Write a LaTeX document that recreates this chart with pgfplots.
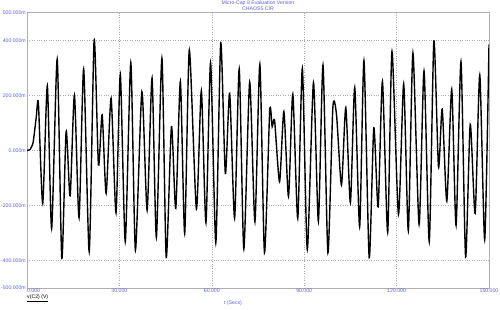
\documentclass[border=0pt]{standalone}
\usepackage{pgfplots}
\pgfplotsset{compat=1.18}
\usepackage{fontspec}
\setmainfont{Liberation Sans}
\definecolor{mcblue}{RGB}{95,95,235}
\definecolor{gridgray}{RGB}{175,175,175}
\begin{document}
\begin{tikzpicture}[x=1bp,y=1bp]
\useasboundingbox (0,0) rectangle (500,309);
\begin{axis}[
  at={(27bp,21bp)}, anchor=south west,
  scale only axis, width=462bp, height=275.3bp,
  xmin=0, xmax=150, ymin=-500, ymax=500,
  axis line style={gridgray, line width=0.6pt},
  major tick length=0pt,
  xtick={0,30,60,90,120,150},
  xticklabels={\makebox[0pt][l]{0.000},30.000,60.000,90.000,120.000,150.000},
  ytick={-500,-400,-200,0,200,400,500},
  yticklabels={-500.000m,-400.000m,-200.000m,0.000m,200.000m,400.000m,500.000m},
  xticklabel style={font=\fontsize{5.2}{6}\selectfont, text=mcblue, inner sep=0.8bp},
  yticklabel style={font=\fontsize{5.2}{6}\selectfont, text=mcblue, inner sep=1bp},
  grid=major,
  major grid style={gridgray, dotted, line width=0.6pt},
  clip=true,
]
\addplot[black, line width=1.4pt, smooth, tension=0.4] coordinates {
(0,0) (1.0,3) (2.0,30) (3.0,120) (3.7,171) (5.1,-193) (6.6,234) (8.0,-284)
(9.8,331) (11.3,-393) (12.7,68) (14.0,-165) (15.4,201) (16.9,-245) (18.4,295)
(20.2,-368) (21.8,401) (23.2,-53) (24.4,129) (25.7,-156) (27.3,189) (28.9,-227)
(30.3,276) (31.9,-332) (33.7,319) (35.2,-362) (37.3,213) (39.0,-217) (40.6,262)
(42.0,-316) (43.8,335) (45.2,-389) (46.9,86) (48.3,-211) (49.8,250) (51.2,-302)
(52.7,365) (55.0,-213) (56.6,216) (58.1,-263) (59.6,319) (61.3,-336) (62.9,391)
(64.4,-84) (65.8,207) (67.4,-247) (68.9,296) (70.4,-358) (72.3,248) (74.0,-259)
(75.6,313) (77.1,-372) (78.8,143) (79.6,86) (80.4,107) (82.0,-114) (83.4,141)
(84.9,-168) (86.3,204) (87.9,-247) (89.4,298) (91.0,-360) (93.0,246) (94.6,-257)
(96.1,310) (97.7,-372) (99.3,155) (100.5,128) (102.1,-126) (103.5,155) (105.0,-190)
(106.4,229) (108.0,-278) (109.4,326) (111.1,-390) (112.6,82) (114.0,-205) (115.4,250)
(117.1,-298) (118.5,359) (120.6,-233) (122.3,241) (123.8,-292) (125.3,353) (127.3,-269)
(128.9,288) (130.6,-332) (132.1,397) (133.6,-60) (134.8,150) (136.3,-184) (137.9,222)
(139.3,-272) (140.9,322) (142.4,-387) (143.9,95) (145.5,-229) (147.0,274) (148.6,-324)
(150.0,385)
};
\end{axis}
\node[font=\fontsize{5.2}{6}\selectfont, text=mcblue, inner sep=0] at (258,305.5) {Micro-Cap 8 Evaluation Version};
\node[font=\fontsize{5.2}{6}\selectfont, text=mcblue, inner sep=0] at (258,299.8) {CHAOS5.CIR};
\node[font=\fontsize{5.2}{6}\selectfont, text=mcblue, inner sep=0] at (233,5.8) {t (Secs)};
\node[font=\fontsize{5.2}{6}\selectfont, text=black, inner sep=0, anchor=west] at (27,11) {\underline{v(C2) (V)}};
\end{tikzpicture}
\end{document}
